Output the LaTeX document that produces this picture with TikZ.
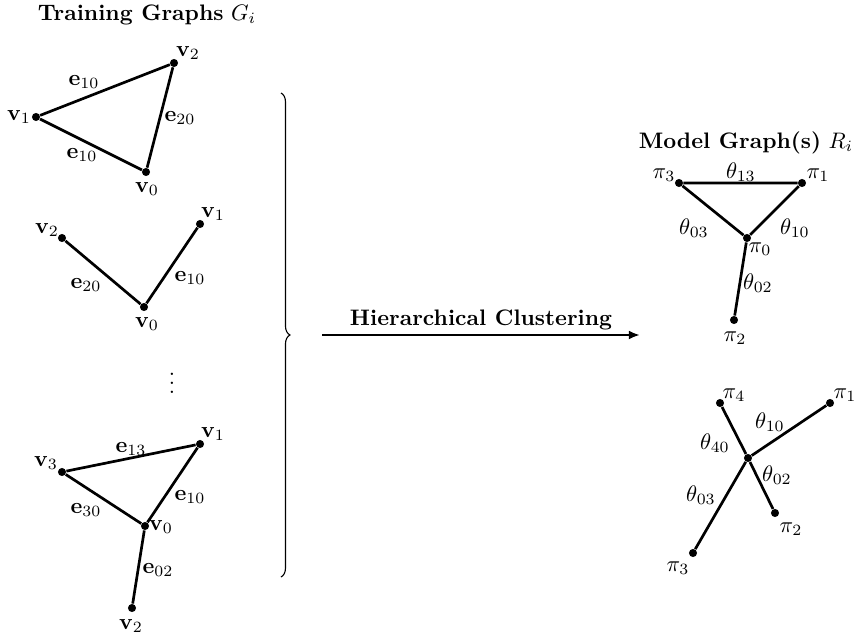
\documentclass[tikz,border=0pt]{standalone}
\usetikzlibrary{decorations.pathreplacing,arrows.meta}
\begin{document}
\begin{tikzpicture}[x=0.446pt,y=-0.446pt,
  vtx/.style={circle,fill=black,inner sep=0pt,minimum size=3.6pt},
  edge/.style={line width=1.2pt},
  lbl/.style={inner sep=0pt}]
\useasboundingbox (0,0) rectangle (854,635);
% titles
\node[lbl] (t1) at (147,15) {\textbf{Training Graphs} $G_i$};
\node[lbl] (t2) at (746,143) {\textbf{Model Graph(s)} $R_i$};
% graph 1
\node[vtx] (a2) at (174,63) {};
\node[vtx] (a1) at (36,117) {};
\node[vtx] (a0) at (146,172) {};
\draw[edge] (a1) -- (a2) -- (a0) -- (a1);
\node[lbl] (la2) at (188,53) {$\mathbf{v}_2$};
\node[lbl] (la1) at (19,117) {$\mathbf{v}_1$};
\node[lbl] (la0) at (147,189) {$\mathbf{v}_0$};
\node[lbl] (ea1) at (84,82) {$\mathbf{e}_{10}$};
\node[lbl] (ea2) at (180,118) {$\mathbf{e}_{20}$};
\node[lbl] (ea3) at (82,155) {$\mathbf{e}_{10}$};
% graph 2
\node[vtx] (b2) at (62,238) {};
\node[vtx] (b1) at (200,224) {};
\node[vtx] (b0) at (144,307) {};
\draw[edge] (b2) -- (b0) -- (b1);
\node[lbl] (lb2) at (47,230) {$\mathbf{v}_2$};
\node[lbl] (lb1) at (213,214) {$\mathbf{v}_1$};
\node[lbl] (lb0) at (147,324) {$\mathbf{v}_0$};
\node[lbl] (eb1) at (86,285) {$\mathbf{e}_{20}$};
\node[lbl] (eb2) at (190,278) {$\mathbf{e}_{10}$};
% vdots
\node[lbl] (dots) at (172,377) {$\vdots$};
% graph 3
\node[vtx] (c3) at (62,472) {};
\node[vtx] (c1) at (200,444) {};
\node[vtx] (c0) at (145,526) {};
\node[vtx] (c2) at (132,608) {};
\draw[edge] (c3) -- (c1) -- (c0) -- (c3);
\draw[edge] (c0) -- (c2);
\node[lbl] (lc3) at (46,463) {$\mathbf{v}_3$};
\node[lbl] (lc1) at (213,434) {$\mathbf{v}_1$};
\node[lbl] (lc0) at (161,527) {$\mathbf{v}_0$};
\node[lbl] (lc2) at (131,626) {$\mathbf{v}_2$};
\node[lbl] (ec1) at (131,449) {$\mathbf{e}_{13}$};
\node[lbl] (ec2) at (86,510) {$\mathbf{e}_{30}$};
\node[lbl] (ec3) at (190,497) {$\mathbf{e}_{10}$};
\node[lbl] (ec4) at (158,570) {$\mathbf{e}_{02}$};
% brace
\coordinate (bt) at (281,93);
\coordinate (bb) at (281,577);
\draw[line width=0.5pt,decorate,decoration={brace,amplitude=4pt}] (bt) -- (bb);
% arrow
\coordinate (as) at (322,335);
\coordinate (ae) at (640,335);
\draw[line width=1.2pt,-{Latex[length=5pt,width=4pt]}] (as) -- (ae);
\node[lbl] (hc) at (481,320) {\textbf{Hierarchical Clustering}};
% model graph 1
\node[vtx] (m3) at (679,183) {};
\node[vtx] (m1) at (802,183) {};
\node[vtx] (m0) at (747,238) {};
\node[vtx] (m2) at (734,320) {};
\draw[edge] (m3) -- (m1) -- (m0) -- (m3);
\draw[edge] (m0) -- (m2);
\node[lbl] (lm3) at (664,175) {$\pi_3$};
\node[lbl] (lm1) at (818,175) {$\pi_1$};
\node[lbl] (lm0) at (760,249) {$\pi_0$};
\node[lbl] (lm2) at (735,338) {$\pi_2$};
\node[lbl] (tm1) at (741,172) {$\theta_{13}$};
\node[lbl] (tm2) at (694,228) {$\theta_{03}$};
\node[lbl] (tm3) at (795,228) {$\theta_{10}$};
\node[lbl] (tm4) at (758,283) {$\theta_{02}$};
% model graph 2
\node[vtx] (n4) at (720,403) {};
\node[vtx] (n1) at (830,403) {};
\node[vtx] (n0) at (748,458) {};
\node[vtx] (n2) at (775,513) {};
\node[vtx] (n3) at (693,553) {};
\draw[edge] (n4) -- (n0) -- (n2);
\draw[edge] (n1) -- (n0) -- (n3);
\node[lbl] (ln4) at (734,395) {$\pi_4$};
\node[lbl] (ln1) at (845,395) {$\pi_1$};
\node[lbl] (ln2) at (791,529) {$\pi_2$};
\node[lbl] (ln3) at (678,568) {$\pi_3$};
\node[lbl] (tn1) at (770,422) {$\theta_{10}$};
\node[lbl] (tn2) at (715,443) {$\theta_{40}$};
\node[lbl] (tn3) at (777,475) {$\theta_{02}$};
\node[lbl] (tn4) at (701,495) {$\theta_{03}$};
\end{tikzpicture}
\end{document}
